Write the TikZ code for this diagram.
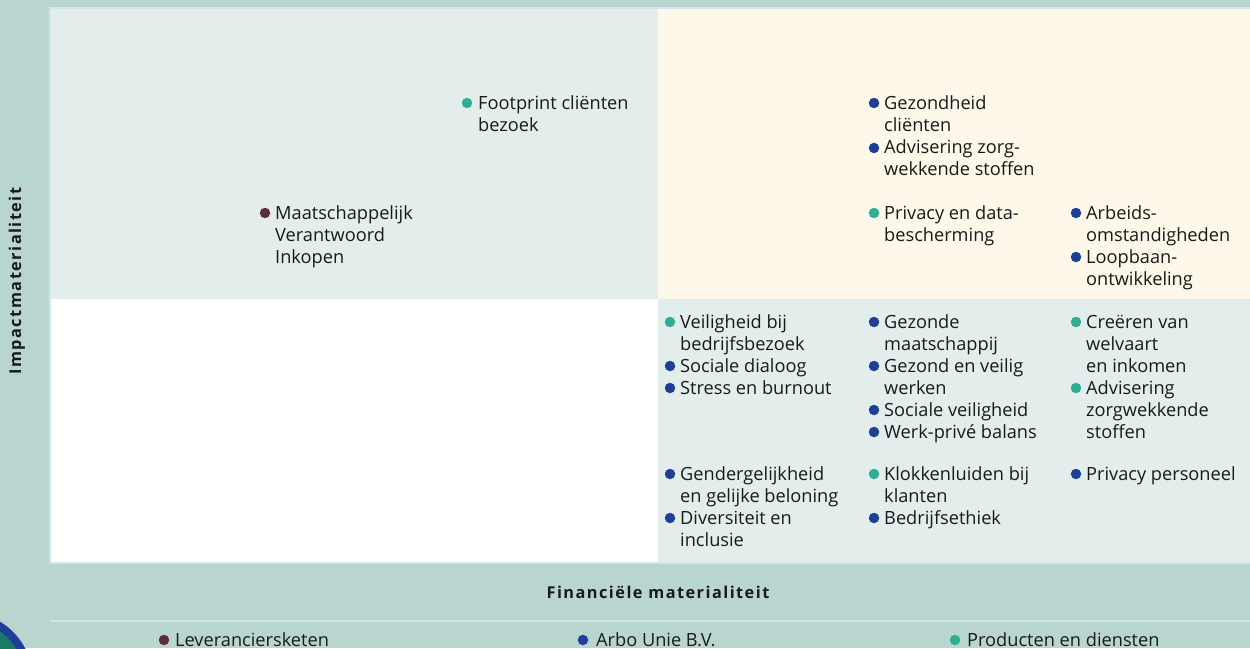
\documentclass[tikz,border=0pt]{standalone}
\usepackage{fontspec}
\setmainfont{Open Sans}
\newfontfamily\ttlfont[LetterSpace=9,BoldFont={* Bold}]{Open Sans}
\definecolor{bgc}{HTML}{B9D5D0}
\definecolor{panelg}{HTML}{E3EDEB}
\definecolor{panelc}{HTML}{FEF8EB}
\definecolor{edgec}{HTML}{D2E5EA}
\definecolor{dblue}{HTML}{1F3E96}
\definecolor{dteal}{HTML}{2FAE94}
\definecolor{dbrown}{HTML}{5A2E36}
\definecolor{cgreen}{HTML}{1A7A66}
\definecolor{txt}{HTML}{1A1A1A}
\newcommand\mylines[1]{\vtop{\baselineskip=22pt\lineskiplimit=-10pt\halign{##\hfil\cr#1\crcr}}}
\tikzset{
  dotb/.style={circle,fill=dblue,inner sep=0pt,minimum size=10.5pt},
  dott/.style={circle,fill=dteal,inner sep=0pt,minimum size=10.5pt},
  dotr/.style={circle,fill=dbrown,inner sep=0pt,minimum size=10.5pt},
  item/.style={anchor=base west,inner sep=0pt,text=txt,font=\fontsize{18.2}{22}\selectfont},
  ttl/.style={text=txt,font=\ttlfont\bfseries\fontsize{16.3}{19}\selectfont}
}
\begin{document}
\begin{tikzpicture}[x=1pt,y=-1pt]
\useasboundingbox (0,0) rectangle (1250,648);
\clip (0,0) rectangle (1250,648);
\fill[bgc] (0,0) rectangle (1250,648);
% panels
\fill[panelg] (50,8) rectangle (658,299);
\fill[panelc] (658,8) rectangle (1250,299);
\fill[white] (50,299) rectangle (658,563);
\fill[panelg] (658,299) rectangle (1250,563);
\draw[edgec,line width=1.2pt] (1252,8) -- (50,8) -- (50,563) -- (1252,563);
\draw[edgec,line width=1.5pt] (50,621) -- (1252,621);
% circle logo
\fill[dblue] (-35,680) circle (68);
\fill[cgreen] (-35,680) circle (60);
% axis titles
\node[ttl] (xt) at (658,592) {Financiële materialiteit};
\node[ttl,rotate=90] (yt) at (17,281) {Impactmaterialiteit};
% top-left
\node[dott] (d1) at (467,103) {};
\node[item] (t1) at (478,109) {\mylines{Footprint cliënten\cr bezoek}};
\node[dotr] (d2) at (265,213) {};
\node[item] (t2) at (275,219) {\mylines{Maatschappelijk\cr Verantwoord\cr Inkopen}};
% top-right
\node[dotb] (d3) at (874,103) {};
\node[item] (t3) at (884,109) {\mylines{Gezondheid\cr cliënten}};
\node[dotb] (d4) at (874,148) {};
\node[item] (t4) at (884,153) {\mylines{Advisering zorg-\cr wekkende stoffen}};
\node[dott] (d5) at (874,213) {};
\node[item] (t5) at (884,219) {\mylines{Privacy en data-\cr bescherming}};
\node[dotb] (d6) at (1076,213) {};
\node[item] (t6) at (1086,219) {\mylines{Arbeids-\cr omstandigheden}};
\node[dotb] (d7) at (1076,257) {};
\node[item] (t7) at (1086,263) {\mylines{Loopbaan-\cr ontwikkeling}};
% bottom-right column 1
\node[dott] (d8) at (670,322) {};
\node[item] (t8) at (680,328) {\mylines{Veiligheid bij\cr bedrijfsbezoek}};
\node[dotb] (d9) at (670,366) {};
\node[item] (t9) at (680,372) {Sociale dialoog};
\node[dotb] (d10) at (670,388) {};
\node[item] (t10) at (680,394) {Stress en burnout};
\node[dotb] (d11) at (670,474) {};
\node[item] (t11) at (680,480) {\mylines{Gendergelijkheid\cr en gelijke beloning}};
\node[dotb] (d12) at (670,518) {};
\node[item] (t12) at (680,524) {\mylines{Diversiteit en\cr inclusie}};
% column 2
\node[dotb] (d13) at (874,322) {};
\node[item] (t13) at (884,328) {\mylines{Gezonde\cr maatschappij}};
\node[dotb] (d14) at (874,366) {};
\node[item] (t14) at (884,372) {\mylines{Gezond en veilig\cr werken}};
\node[dotb] (d15) at (874,410) {};
\node[item] (t15) at (884,416) {Sociale veiligheid};
\node[dotb] (d16) at (874,432) {};
\node[item] (t16) at (884,438) {Werk-privé balans};
\node[dott] (d17) at (874,474) {};
\node[item] (t17) at (884,480) {\mylines{Klokkenluiden bij\cr klanten}};
\node[dotb] (d18) at (874,518) {};
\node[item] (t18) at (884,524) {Bedrijfsethiek};
% column 3
\node[dott] (d19) at (1076,322) {};
\node[item] (t19) at (1086,328) {\mylines{Creëren van\cr welvaart\cr en inkomen}};
\node[dott] (d20) at (1076,388) {};
\node[item] (t20) at (1086,394) {\mylines{Advisering\cr zorgwekkende\cr stoffen}};
\node[dotb] (d21) at (1076,474) {};
\node[item] (t21) at (1086,480) {Privacy personeel};
% legend
\node[dotr] (l1) at (164,640) {};
\node[item] (lt1) at (175,646) {Leveranciersketen};
\node[dotb] (l2) at (583,640) {};
\node[item] (lt2) at (596,646) {Arbo Unie B.V.};
\node[dott] (l3) at (955,640) {};
\node[item] (lt3) at (967,646) {Producten en diensten};
\end{tikzpicture}
\end{document}
